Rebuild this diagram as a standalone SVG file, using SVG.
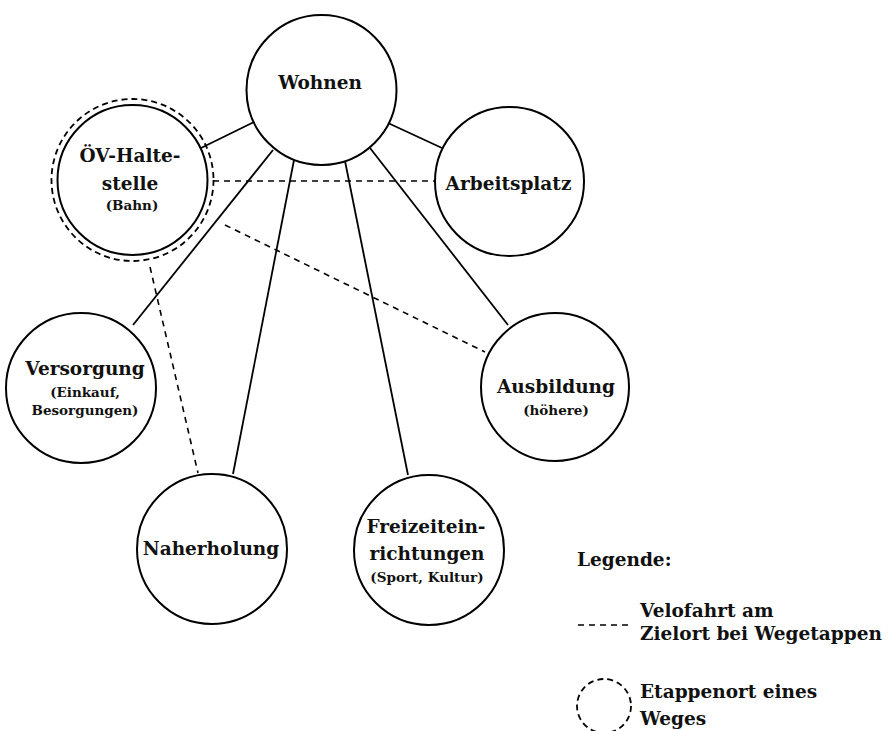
<svg xmlns="http://www.w3.org/2000/svg" width="888" height="731" viewBox="0 0 888 731">
<style>
.n{fill:#fff;stroke:#000;stroke-width:2}
.s{stroke:#000;stroke-width:1.8;fill:none}
.d{stroke:#000;stroke-width:1.6;fill:none;stroke-dasharray:6 5}
.dc{stroke:#000;stroke-width:1.8;fill:none;stroke-dasharray:6 4}
text{font-family:"DejaVu Serif","Liberation Serif",serif;font-weight:bold;fill:#111;text-anchor:middle}
.b{font-size:18.5px}
.m{font-size:13.5px}
.l{text-anchor:start;font-size:18.5px}
</style>
<rect width="888" height="731" fill="#fff"/>
<g id="connectors">
<line class="s" x1="254" y1="122" x2="201" y2="148"/>
<line class="s" x1="388" y1="123" x2="442" y2="148"/>
<line class="s" x1="273" y1="150" x2="133" y2="325"/>
<line class="s" x1="294" y1="160" x2="233" y2="474"/>
<line class="s" x1="345" y1="161" x2="408" y2="475"/>
<line class="s" x1="370" y1="148" x2="508" y2="325"/>
<line class="d" x1="213" y1="181" x2="435" y2="181"/>
<line class="d" x1="225" y1="225" x2="485" y2="352"/>
<line class="d" x1="150" y1="267" x2="198" y2="473"/>
</g>
<g id="wohnen"><circle class="n" cx="321.5" cy="90" r="75"/><text class="b" x="320" y="89">Wohnen</text></g>
<g id="oev"><circle class="dc" cx="132.5" cy="180" r="81"/><circle class="n" cx="132.5" cy="180" r="75"/>
<text class="b" x="130" y="162">ÖV-Halte-</text><text class="b" x="130" y="190">stelle</text><text class="m" x="132" y="210">(Bahn)</text></g>
<g id="arbeitsplatz"><circle class="n" cx="509.5" cy="181.5" r="74.5"/><text class="b" x="508.5" y="190">Arbeitsplatz</text></g>
<g id="versorgung"><circle class="n" cx="81" cy="388" r="75"/><text class="b" x="85" y="375">Versorgung</text><text class="m" x="85" y="397">(Einkauf,</text><text class="m" x="85" y="415">Besorgungen)</text></g>
<g id="ausbildung"><circle class="n" cx="555" cy="387" r="74"/><text class="b" x="556" y="393">Ausbildung</text><text class="m" x="556" y="415">(höhere)</text></g>
<g id="naherholung"><circle class="n" cx="212" cy="549" r="75"/><text class="b" x="211" y="555">Naherholung</text></g>
<g id="freizeit"><circle class="n" cx="429" cy="550" r="75"/><text class="b" x="426" y="533">Freizeitein-</text><text class="b" x="427" y="560">richtungen</text><text class="m" x="427" y="582">(Sport, Kultur)</text></g>
<g id="legend">
<text class="l" x="577" y="566">Legende:</text>
<line class="d" x1="578" y1="625" x2="632" y2="625"/>
<text class="l" x="640" y="617">Velofahrt am</text>
<text class="l" x="640" y="640">Zielort bei Wegetappen</text>
<circle class="dc" cx="604" cy="706" r="27"/>
<text class="l" x="640" y="698">Etappenort eines</text>
<text class="l" x="640" y="725">Weges</text>
</g>
</svg>
